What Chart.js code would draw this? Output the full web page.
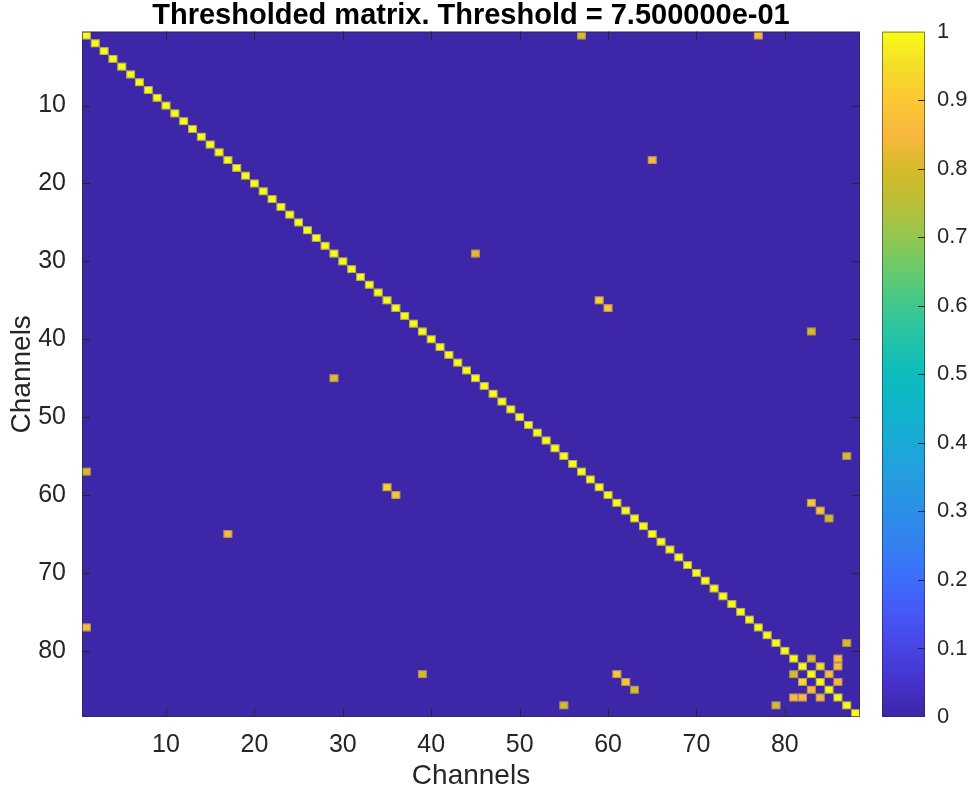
<!DOCTYPE html>
<html>
<head>
<meta charset="utf-8">
<title>Thresholded matrix</title>
<script src="https://cdn.jsdelivr.net/npm/chart.js@4.4.1/dist/chart.umd.min.js"></script>
<style>
  html, body { margin: 0; padding: 0; background: #fff; }
  canvas { display: block; }
</style>
</head>
<body>
<canvas id="matrix" width="971" height="793"></canvas>
<script>
// channel x channel correlation, values kept only above the threshold
const nChannels = 88;
const diagValue = 1;
// upper-triangle entries above threshold (the matrix is symmetric)
const linkRows = [1, 1, 17, 29, 35, 36, 39, 55, 61, 62, 63, 79, 81, 81, 82, 82, 83, 84];
const linkCols = [57, 77, 65, 45, 59, 60, 83, 87, 83, 84, 85, 87, 83, 86, 84, 86, 85, 86];
const linkVals = [0.80, 0.86, 0.85, 0.82, 0.92, 0.89, 0.80, 0.80, 0.89, 0.88, 0.80, 0.80, 0.80, 0.86, 0.94, 0.86, 0.86, 0.85];
const axisTicks = [10, 20, 30, 40, 50, 60, 70, 80];
const barTicks = [0, 0.1, 0.2, 0.3, 0.4, 0.5, 0.6, 0.7, 0.8, 0.9, 1];

const cells = [];
for (let i = 1; i <= nChannels; i++) cells.push({x: i, y: i, v: diagValue});
linkRows.forEach((r, k) => {
  cells.push({x: linkCols[k], y: r, v: linkVals[k]});
  cells.push({x: r, y: linkCols[k], v: linkVals[k]});
});

// parula-like colormap
const parulaStops = [
  [0.00, '#3e26a8'], [0.05, '#4532cc'], [0.10, '#4744e4'], [0.15, '#4757f6'],
  [0.20, '#3c6dfa'], [0.25, '#3580f1'], [0.30, '#2c8fe7'], [0.35, '#259ddf'],
  [0.40, '#1ba9d6'], [0.45, '#10b4ca'], [0.50, '#0cbcbe'], [0.55, '#23c3a8'],
  [0.60, '#3ec88f'], [0.65, '#67ca6e'], [0.70, '#93c750'], [0.75, '#bbbf38'],
  [0.80, '#d6ba28'], [0.85, '#f8b83e'], [0.90, '#fcc833'], [0.95, '#f4de28'],
  [1.00, '#f9fb15']
];

function hexRgb(h) {
  return [parseInt(h.slice(1, 3), 16), parseInt(h.slice(3, 5), 16), parseInt(h.slice(5, 7), 16)];
}

function parula(t) {
  t = Math.max(0, Math.min(1, t));
  for (let i = 1; i < parulaStops.length; i++) {
    const [t1, c1] = parulaStops[i];
    if (t <= t1) {
      const [t0, c0] = parulaStops[i - 1];
      const f = (t - t0) / (t1 - t0);
      const a = hexRgb(c0), b = hexRgb(c1);
      return 'rgb(' + a.map((v, j) => Math.round(v + (b[j] - v) * f)).join(',') + ')';
    }
  }
  return parulaStops[parulaStops.length - 1][1];
}

const FONT = '"Liberation Sans", Arial, Helvetica, sans-serif';
const INK = '#262626';

const matrixPlugin = {
  id: 'matrix',
  beforeDatasetsDraw(chart) {
    const {ctx, scales: {x, y}} = chart;
    const x0 = x.getPixelForValue(0.5), x1 = x.getPixelForValue(nChannels + 0.5);
    const y0 = y.getPixelForValue(0.5), y1 = y.getPixelForValue(nChannels + 0.5);
    ctx.save();
    ctx.fillStyle = parula(0);
    ctx.fillRect(x0, y0, x1 - x0, y1 - y0);
    chart.data.datasets[0].data.forEach(c => {
      const l = x.getPixelForValue(c.x - 0.5), r = x.getPixelForValue(c.x + 0.5);
      const t = y.getPixelForValue(c.y - 0.5), b = y.getPixelForValue(c.y + 0.5);
      ctx.fillStyle = parula(c.v);
      ctx.fillRect(l, t, r - l, b - t);
      ctx.strokeStyle = 'rgba(125,110,135,0.55)';
      ctx.lineWidth = 1;
      ctx.strokeRect(l + 0.5, t + 0.5, r - l - 1, b - t - 1);
    });
    ctx.restore();
  },
  afterDraw(chart) {
    const {ctx, chartArea: a, scales: {x, y, cb}} = chart;
    ctx.save();
    // colorbar
    const bl = a.right + 22, br = a.right + 65;
    const bt = cb.getPixelForValue(1), bb = cb.getPixelForValue(0);
    const g = ctx.createLinearGradient(0, bb, 0, bt);
    parulaStops.forEach(([t, c]) => g.addColorStop(t, c));
    ctx.fillStyle = g;
    ctx.fillRect(bl, bt, br - bl, bb - bt);

    ctx.strokeStyle = 'rgba(38,38,38,0.55)';
    ctx.lineWidth = 1;
    ctx.strokeRect(a.left + 0.5, a.top + 0.5, a.right - a.left - 1, a.bottom - a.top - 1);
    ctx.strokeRect(bl + 0.5, bt + 0.5, br - bl - 1, bb - bt - 1);

    // inward tick marks on all sides
    ctx.strokeStyle = INK;
    ctx.beginPath();
    axisTicks.forEach(v => {
      const px = Math.round(x.getPixelForValue(v)) + 0.5;
      ctx.moveTo(px, a.bottom); ctx.lineTo(px, a.bottom - 8);
      ctx.moveTo(px, a.top); ctx.lineTo(px, a.top + 8);
      const py = Math.round(y.getPixelForValue(v)) + 0.5;
      ctx.moveTo(a.left, py); ctx.lineTo(a.left + 8, py);
      ctx.moveTo(a.right, py); ctx.lineTo(a.right - 8, py);
    });
    barTicks.slice(1, -1).forEach(v => {
      const py = Math.round(cb.getPixelForValue(v)) + 0.5;
      ctx.moveTo(br, py); ctx.lineTo(br - 7, py);
    });
    ctx.stroke();
    ctx.restore();
  }
};

const tickFont = {family: FONT, size: 25};
const labelFont = {family: FONT, size: 28};

// label overhang is not allowed to push the plot area inward
function noOverhang(s) {
  s.paddingTop = 0; s.paddingBottom = 0; s.paddingLeft = 0; s.paddingRight = 0;
}

new Chart(document.getElementById('matrix'), {
  type: 'scatter',
  data: {
    datasets: [{
      label: 'matrix',
      data: cells,
      pointRadius: 0,
      pointHoverRadius: 0
    }]
  },
  options: {
    responsive: false,
    animation: false,
    devicePixelRatio: 1,
    layout: {padding: 0},
    plugins: {
      legend: {display: false},
      tooltip: {enabled: false},
      title: {
        display: true,
        fullSize: false,
        text: 'Thresholded matrix. Threshold = 7.500000e-01',
        color: '#000',
        font: {family: FONT, size: 29, weight: 'bold', lineHeight: 1.09},
        padding: {top: 0, bottom: 0}
      }
    },
    scales: {
      x: {
        type: 'linear',
        position: 'bottom',
        min: 0.5,
        max: nChannels + 0.5,
        afterBuildTicks: s => { s.ticks = axisTicks.map(v => ({value: v})); },
        afterFit: s => { s.height = 76; noOverhang(s); },
        grid: {display: false, drawTicks: false},
        border: {display: false},
        ticks: {autoSkip: false, maxRotation: 0, padding: 13, color: INK, font: tickFont},
        title: {display: true, text: 'Channels', color: INK, font: labelFont, padding: {top: 0, bottom: 0}}
      },
      y: {
        type: 'linear',
        position: 'left',
        reverse: true,
        min: 0.5,
        max: nChannels + 0.5,
        afterBuildTicks: s => { s.ticks = axisTicks.map(v => ({value: v})); },
        afterFit: s => { s.width = 82; noOverhang(s); },
        grid: {display: false, drawTicks: false},
        border: {display: false},
        ticks: {autoSkip: false, padding: 16, color: INK, font: tickFont},
        title: {display: true, text: 'Channels', color: INK, font: labelFont, padding: {top: 5, bottom: 0}}
      },
      cb: {
        type: 'linear',
        position: 'right',
        min: 0,
        max: 1,
        afterBuildTicks: s => { s.ticks = barTicks.map(v => ({value: v})); },
        afterFit: s => { s.width = 111; noOverhang(s); },
        grid: {display: false, drawTicks: false},
        border: {display: false},
        ticks: {
          autoSkip: false,
          padding: 77,
          color: INK,
          font: {family: FONT, size: 22},
          callback: v => (v === 0 || v === 1) ? String(v) : v.toFixed(1)
        }
      }
    }
  },
  plugins: [matrixPlugin]
});
</script>
</body>
</html>
